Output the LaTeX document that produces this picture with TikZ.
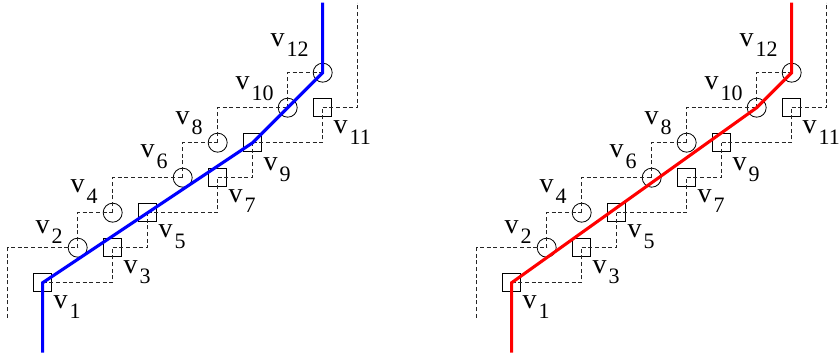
\documentclass[tikz,border=0pt]{standalone}
\usepackage{fontspec}
\setmainfont{Liberation Serif}
\usepackage{tikz}
\usetikzlibrary{arrows.meta}
\definecolor{pathblue}{RGB}{0,0,255}
\definecolor{pathred}{RGB}{255,0,0}
\tikzset{
  sqv/.style={rectangle, draw=black, minimum size=13.5pt, inner sep=0pt, line width=0.6pt},
  cirv/.style={circle, draw=black, minimum size=14.25pt, inner sep=0pt, line width=0.6pt},
  vlabel/.style={anchor=base west, inner sep=0pt, font=\fontsize{21}{25}\selectfont},
  dashline/.style={line width=0.5pt, dash pattern=on 3pt off 2pt, color=black!85},
  bluepath/.style={line width=2.3pt, color=pathblue},
  redpath/.style={line width=2.3pt, color=pathred}
}
\newcommand{\vsub}[1]{v\kern1.5pt\raisebox{-8pt}{\fontsize{16.5}{18}\selectfont #1}}

\begin{document}
\begin{tikzpicture}[x=26.25pt, y=26.25pt]
  \useasboundingbox (-1.22,-2.094) rectangle (22.78,8.077);

  % the same staircase in both panels
  \foreach \pn/\sx in {L/0, R/13.4} {
    \begin{scope}[xshift=\sx*26.25pt]
      % square vertices (odd) and circle vertices (even)
      \foreach \i/\x/\y in {1/0/0, 3/2/1, 5/3/2, 7/5/3, 9/6/4, 11/8/5}
        \node[sqv] (\pn\i) at (\x,\y) {};
      \foreach \i/\x/\y in {2/1/1, 4/2/2, 6/4/3, 8/5/4, 10/7/5, 12/8/6}
        \node[cirv] (\pn\i) at (\x,\y) {};

      % labels
      \foreach \i/\dy in {1/-19.2, 3/-19.2, 5/-18.8, 7/-18.3, 9/-21, 11/-19.7}
        \node[vlabel, xshift=8pt, yshift=\dy pt] (\pn-lab\i) at (\pn\i.center) {\vsub{\i}};
      \foreach \i/\dx/\dy in {2/-31.7/10.8, 4/-31.7/15, 6/-31.7/15, 8/-31.7/13.8, 10/-39.2/13.5, 12/-39.2/20}
        \node[vlabel, xshift=\dx pt, yshift=\dy pt] (\pn-lab\i) at (\pn\i.center) {\vsub{\i}};

      % dashed staircase
      \coordinate (\pn-s) at (-1,-1);
      \coordinate (\pn-t) at (9,8);
      \draw[dashline] (\pn-s) |- (\pn2.center);
      \foreach \a/\b in {1/3, 3/5, 5/7, 7/9, 9/11}
        \draw[dashline] (\pn\a.center) -| (\pn\b.center);
      \foreach \a/\b in {2/4, 4/6, 6/8, 8/10, 10/12}
        \draw[dashline] (\pn\a.center) |- (\pn\b.center);
      \draw[dashline] (\pn11.center) -| (\pn-t);

      % ends of the thick path
      \coordinate (\pn-bot) at (0,-2);
      \coordinate (\pn-top) at (8,8);
    \end{scope}
  }

  % blue path (left) and red path (right)
  \draw[bluepath] (L-bot) -- (L1.center) -- (L9.center) -- (L12.center) -- (L-top);
  \draw[redpath] (R-bot) -- (R1.center) -- (R10.center) -- (R12.center) -- (R-top);
\end{tikzpicture}
\end{document}
